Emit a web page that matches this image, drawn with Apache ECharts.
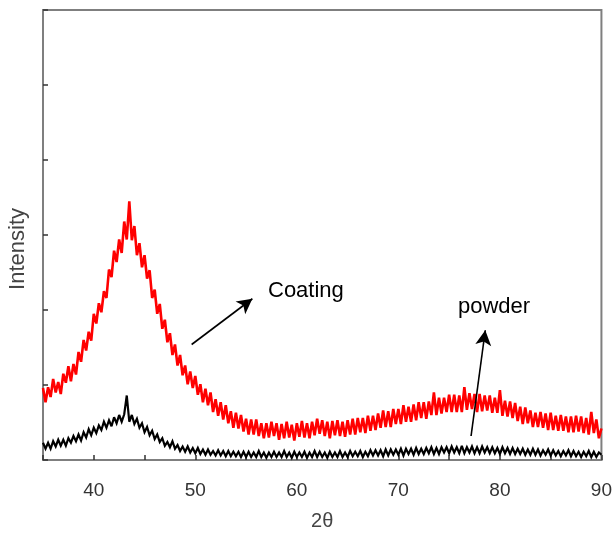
<!DOCTYPE html>
<html>
<head>
<meta charset="utf-8">
<script src="https://cdn.jsdelivr.net/npm/echarts@6/dist/echarts.min.js"></script>
<style>html,body{margin:0;padding:0;background:#fff}#c{width:615px;height:536px}</style>
</head>
<body>
<div id="c"></div>
<script>
// 2θ sample positions (degrees)
const twoTheta = [
35,35.25,35.5,35.75,36,36.25,36.5,36.75,37,37.25,37.5,37.75,38,38.25,38.5,38.75,39,39.25,39.5,39.75,
40,40.25,40.5,40.75,41,41.25,41.5,41.75,42,42.25,42.5,42.75,43,43.25,43.5,43.75,44,44.25,44.5,44.75,
45,45.25,45.5,45.75,46,46.25,46.5,46.75,47,47.25,47.5,47.75,48,48.25,48.5,48.75,49,49.25,49.5,49.75,
50,50.25,50.5,50.75,51,51.25,51.5,51.75,52,52.25,52.5,52.75,53,53.25,53.5,53.75,54,54.25,54.5,54.75,
55,55.25,55.5,55.75,56,56.25,56.5,56.75,57,57.25,57.5,57.75,58,58.25,58.5,58.75,59,59.25,59.5,59.75,
60,60.25,60.5,60.75,61,61.25,61.5,61.75,62,62.25,62.5,62.75,63,63.25,63.5,63.75,64,64.25,64.5,64.75,
65,65.25,65.5,65.75,66,66.25,66.5,66.75,67,67.25,67.5,67.75,68,68.25,68.5,68.75,69,69.25,69.5,69.75,
70,70.25,70.5,70.75,71,71.25,71.5,71.75,72,72.25,72.5,72.75,73,73.25,73.5,73.75,74,74.25,74.5,74.75,
75,75.25,75.5,75.75,76,76.25,76.5,76.75,77,77.25,77.5,77.75,78,78.25,78.5,78.75,79,79.25,79.5,79.75,
80,80.25,80.5,80.75,81,81.25,81.5,81.75,82,82.25,82.5,82.75,83,83.25,83.5,83.75,84,84.25,84.5,84.75,
85,85.25,85.5,85.75,86,86.25,86.5,86.75,87,87.25,87.5,87.75,88,88.25,88.5,88.75,89,89.25,89.5,89.75,
90
];

// Coating (red) intensity, arbitrary units
const coating = [
96,77,97,84, 108,90,104,88, 115,103,125,105, 128,114,144,131, 160,146,171,159,
195,182,209,197, 225,216,254,244, 279,264,294,276, 318,294,345,293, 312,273,289,257,
273,242,253,216, 227,195,208,175, 187,157,169,140, 154,126,140,113, 126,101,118,96,
112,87,101,77, 95,73,90,64, 81,59,77,54, 73,49,65,43, 63,42,60,38,
55,34,54,34, 54,32,49,29, 49,30,51,32, 49,27,48,29, 51,30,47,26,
49,31,52,30, 49,29,51,33, 55,35,53,32, 51,29,52,33, 53,32,51,31,
53,34,55,34, 56,37,56,36, 59,39,59,40, 62,43,66,44, 65,44,68,48,
68,48,73,51, 71,51,74,53, 77,56,77,55, 78,60,90,60, 83,62,83,64,
87,64,87,64, 86,64,97,67, 89,68,88,64, 88,65,86,66, 86,63,83,63,
93,59,79,58, 78,56,76,52, 71,48,70,49, 66,44,63,44, 64,43,62,40,
63,40,59,39, 60,39,58,37, 58,37,59,38, 58,36,56,34, 64,36,54,29,
42
];

// Powder (black) intensity, arbitrary units
const powder = [
23,15,23,15, 25,18,27,19, 27,19,29,23, 32,25,34,26, 37,30,41,33,
43,36,46,40, 51,43,53,45, 57,49,60,51, 61,86,51,60, 48,55,43,49,
37,44,33,39, 28,34,24,29, 19,24,17,25, 15,20,12,18, 11,18,10,16,
9,16,8,14, 7,14,7,12, 6,13,6,12, 5,12,5,11, 5,11,4,11,
4,11,4,10, 4,12,4,10, 3,10,4,11, 4,10,4,12, 4,10,3,11,
4,10,4,11, 3,10,4,12, 4,11,4,10, 3,11,4,10, 4,12,4,10,
4,12,5,11, 5,12,4,11, 5,13,6,13, 6,13,5,14, 6,14,7,14,
7,15,6,15, 8,15,7,16, 8,15,8,16, 9,17,8,16, 8,17,10,17,
9,18,10,17, 9,19,9,17, 10,18,9,17, 9,18,10,17, 9,17,9,16,
8,17,9,16, 8,16,8,15, 8,15,7,14, 7,15,7,14, 6,13,7,14,
6,13,6,12, 5,12,6,13, 5,12,5,11, 4,11,5,12, 4,11,4,10,
7
];

const xTicks = [40, 50, 60, 70, 80, 90];

const toPairs = (xs, ys) => xs.map((x, i) => [x, ys[i]]);

const chart = echarts.init(document.getElementById('c'), null, {renderer: 'canvas'});
const FONT = 'Liberation Sans, Arial, sans-serif';
chart.setOption({
  animation: false,
  backgroundColor: '#ffffff',
  grid: {left: 43, right: 12, top: 10, bottom: 74, show: true, borderColor: '#7f7f7f', borderWidth: 2, backgroundColor: 'transparent'},
  xAxis: {
    type: 'value', min: 35, max: 90, interval: 5,
    name: '2θ', nameLocation: 'middle', nameGap: 51,
    nameTextStyle: {fontFamily: FONT, fontSize: 20, color: '#444'},
    axisLine: {show: true, onZero: false, lineStyle: {color: '#7f7f7f', width: 2}},
    axisTick: {show: true, inside: true, length: 5, lineStyle: {color: '#333', width: 1.5}},
    axisLabel: {
      margin: 21, fontFamily: FONT, fontSize: 19, color: '#333',
      formatter: v => (xTicks.indexOf(v) >= 0 ? String(v) : '')
    },
    splitLine: {show: false}
  },
  yAxis: {
    type: 'value', min: 0, max: 600, interval: 100,
    axisLine: {show: true, onZero: false, lineStyle: {color: '#7f7f7f', width: 2}},
    axisTick: {show: true, inside: true, length: 5, lineStyle: {color: '#333', width: 1.5}},
    axisLabel: {show: false},
    splitLine: {show: false}
  },
  series: [
    {
      name: 'Coating', type: 'line', data: toPairs(twoTheta, coating),
      showSymbol: false, symbol: 'none', lineStyle: {color: '#ff0000', width: 2.6, join: 'miter', miterLimit: 3}, z: 2,
      markLine: {
        silent: true, symbol: ['none', 'arrow'], symbolSize: [12, 15],
        label: {show: false},
        lineStyle: {color: '#000', width: 1.6, type: 'solid'},
        data: [
          [{coord: [49.64, 154]}, {coord: [55.62, 215]}],
          [{coord: [77.16, 32]}, {coord: [78.56, 173]}]
        ]
      }
    },
    {
      name: 'powder', type: 'line', data: toPairs(twoTheta, powder),
      showSymbol: false, symbol: 'none', lineStyle: {color: '#000000', width: 2.2, join: 'miter', miterLimit: 3}, z: 3
    }
  ],
  graphic: [
    {type: 'text', left: 7, top: 208, rotation: Math.PI / 2, originX: 0, originY: 0,
      style: {text: 'Intensity', font: '22px ' + FONT, fill: '#444', align: 'center', verticalAlign: 'middle', x: 0, y: 0}},
    {type: 'text', left: 268, top: 280, style: {text: 'Coating', font: '22px ' + FONT, fill: '#000'}},
    {type: 'text', left: 458, top: 296, style: {text: 'powder', font: '22px ' + FONT, fill: '#000'}}
  ]
});
</script>
</body>
</html>
